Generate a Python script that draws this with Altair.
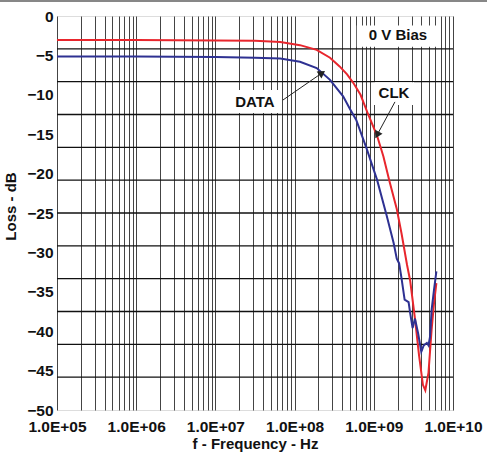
import altair as alt
import pandas as pd

# ---- data ----
clk_freq = [1.0e5, 1.0e6, 1.0e7, 3.16e7, 6.6e7, 1.17e8, 1.9e8, 2.8e8, 3.7e8, 4.6e8,
            5.6e8, 6.8e8, 8.5e8, 1.10e9, 1.32e9, 1.58e9, 1.95e9, 2.24e9, 2.63e9,
            2.88e9, 3.31e9, 3.72e9, 4.17e9, 4.47e9, 4.90e9, 5.37e9, 5.75e9, 6.17e9]
clk_loss = [-3.05, -3.05, -3.1, -3.15, -3.3, -3.7, -4.3, -5.3, -6.4, -7.4,
            -8.6, -10.0, -12.5, -15.2, -17.8, -21.0, -24.5, -27.6, -31.6,
            -33.6, -38.4, -43.0, -46.8, -47.5, -45.3, -39.8, -36.5, -33.9]

data_freq = [1.0e5, 1.0e6, 1.0e7, 3.16e7, 6.6e7, 1.17e8, 1.9e8, 2.8e8, 4.1e8, 5.0e8,
             6.0e8, 8.1e8, 1.10e9, 1.45e9, 1.78e9, 1.95e9, 2.09e9, 2.24e9, 2.45e9,
             2.75e9, 2.88e9, 3.09e9, 3.31e9, 3.63e9, 3.98e9, 4.27e9, 4.68e9, 4.90e9,
             5.13e9, 5.37e9, 5.75e9, 6.17e9]
data_loss = [-5.15, -5.15, -5.2, -5.3, -5.4, -5.8, -6.6, -8.1, -10.2, -11.8,
             -13.2, -16.8, -20.8, -25.3, -28.8, -30.8, -31.4, -33.3, -36.0,
             -36.3, -37.7, -39.6, -38.4, -40.3, -42.6, -41.8, -41.5, -41.8,
             -40.7, -37.3, -34.8, -32.4]

x_ticks = [1e5, 1e6, 1e7, 1e8, 1e9, 1e10]
y_ticks = [0, -5, -10, -15, -20, -25, -30, -35, -40, -45, -50]

# annotations
note_text = ["0 V Bias", "DATA", "CLK"]
note_x = [2.02e9, 3.16e7, 1.8e9]
note_y = [-2.4, -10.9, -9.8]
box_x1 = [6.1e8, 1.62e7, 1.0e9]
box_x2 = [6.9e9, 6.55e7, 3.22e9]
box_y1 = [-1.2, -9.4, -8.4]
box_y2 = [-3.9, -12.3, -11.3]

arrow_x1 = [7.13e7, 1.85e9]
arrow_y1 = [-10.66, -10.9]
arrow_x2 = [2.22e8, 1.10e9]
arrow_y2 = [-7.23, -15.1]
arrow_angle = [55, 209]

RED = "#e8262d"
BLUE = "#2e3192"

curves = pd.concat([
    pd.DataFrame({"f": clk_freq, "loss": clk_loss, "s": "CLK"}),
    pd.DataFrame({"f": data_freq, "loss": data_loss, "s": "DATA"}),
])
notes = pd.DataFrame({"t": note_text, "x": note_x, "y": note_y,
                      "x1": box_x1, "x2": box_x2, "y1": box_y1, "y2": box_y2})
arrows = pd.DataFrame({"x1": arrow_x1, "y1": arrow_y1, "x2": arrow_x2,
                       "y2": arrow_y2, "a": arrow_angle})

minor_vals = [m * 10 ** k for k in range(5, 10) for m in range(1, 10)] + [1e10]
hgrid = pd.DataFrame({"y": [-50 * k / 12 for k in range(1, 12)]})

xscale = alt.Scale(type="log", domain=[1e5, 1e10], nice=False)
yscale = alt.Scale(domain=[-50, 0], nice=False)

label_expr = ("abs(log(datum.value)/LN10 - round(log(datum.value)/LN10)) < 0.001 ? "
              "'1.0E+' + (round(log(datum.value)/LN10) < 10 ? '0' : '') + "
              "round(log(datum.value)/LN10) : ''")

xaxis = alt.Axis(values=minor_vals, labelExpr=label_expr, grid=True,
                 gridColor="#444", gridWidth=1, ticks=False, domain=False,
                 labelOverlap=False, labelFlush=False, labelPadding=9,
                 labelFontSize=15.5, labelFontWeight="bold", labelColor="#111",
                 title="f - Frequency - Hz", titleFontSize=15,
                 titleFontWeight="bold", titlePadding=2, titleColor="#111")
yaxis = alt.Axis(values=y_ticks, grid=False, ticks=False, domain=False,
                 labelOverlap=False, labelFlush=False,
                 labelPadding=4, labelFontSize=15.5, labelFontWeight="bold",
                 labelColor="#111", title="Loss - dB", titleFontSize=15,
                 titleFontWeight="bold", titlePadding=8, titleColor="#111",
                 titleY=190)

AX = lambda f: alt.X(f, scale=xscale, axis=xaxis, title="f - Frequency - Hz")
AY = lambda f: alt.Y(f, scale=yscale, axis=yaxis, title="Loss - dB")

lines = alt.Chart(curves).mark_line(strokeWidth=2).encode(
    x=AX("f:Q"), y=AY("loss:Q"),
    color=alt.Color("s:N", scale=alt.Scale(domain=["CLK", "DATA"], range=[RED, BLUE]),
                    legend=None))

grid_layer = alt.Chart(hgrid).mark_rule(color="#111", strokeWidth=1.3).encode(
    y=AY("y:Q"))

boxes = alt.Chart(notes).mark_rect(fill="white").encode(
    x=AX("x1:Q"), x2="x2", y=AY("y1:Q"), y2="y2")

arrow_lines = alt.Chart(arrows).mark_rule(color="#222", strokeWidth=1).encode(
    x=AX("x1:Q"), y=AY("y1:Q"), x2="x2", y2="y2")
arrow_heads = alt.Chart(arrows).mark_point(shape="triangle-up", filled=True,
                                           color="#222", size=70, opacity=1).encode(
    x=AX("x2:Q"), y=AY("y2:Q"), angle=alt.Angle("a:Q", scale=None))

texts = alt.Chart(notes).mark_text(fontSize=15, fontWeight="bold", color="#111").encode(
    x=AX("x:Q"), y=AY("y:Q"), text="t:N")

top_line = alt.Chart(pd.DataFrame({"a": [0]})).mark_rule(color="#111", strokeWidth=1.2).encode(
    x=alt.value(-57), x2=alt.value(430), y=alt.value(-15))

chart = alt.layer(grid_layer, boxes, lines, arrow_lines, arrow_heads, texts, top_line).properties(
    width=396, height=394,
    autosize=alt.AutoSizeParams(type="none"),
    padding={"left": 57, "top": 16, "right": 34, "bottom": 42},
).configure_view(stroke="#111", strokeWidth=2).configure(
    font="Liberation Sans", background="white")

chart.save("out.html", embed_options={"renderer": "svg", "actions": False})
